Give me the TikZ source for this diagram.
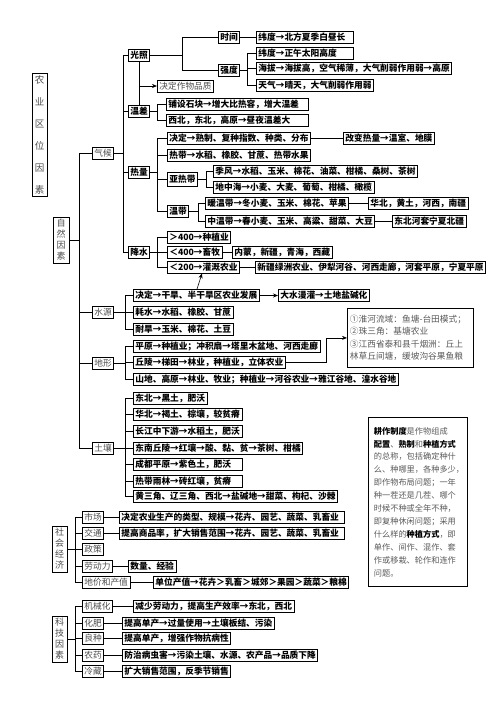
\documentclass[tikz,border=0pt]{standalone}
\usepackage{fontspec}
\setmainfont{Noto Sans CJK SC}[BoldFont={Noto Sans CJK SC Black}]
\usetikzlibrary{arrows.meta, positioning}

\newcommand{\kw}[1]{{\bfseries\color{black}#1}}

\begin{document}
\begin{tikzpicture}[
    x=1pt, y=-1pt,
    every node/.style={font=\fontsize{8.7}{11}\selectfont},
    bx/.style={rectangle, draw, line width=0.8pt, anchor=west, inner xsep=2pt, inner ysep=1.5pt, text height=7.5pt, text depth=1.5pt, font=\fontsize{8.7}{11}\selectfont\bfseries},
    rb/.style={bx, font=\fontsize{8.7}{11}\selectfont, text=black!70},
    wide/.style={text width=#1, align=left},
    vbox/.style={rectangle, draw, line width=0.8pt, align=center, inner sep=0pt, minimum width=15pt, text=black!70, font=\fontsize{9}{11}\selectfont},
    note/.style={rectangle, draw, line width=0.8pt, anchor=north west, align=left, text=black!65},
    link/.style={line width=0.6pt},
    arrow/.style={-{Stealth[length=5pt, width=4pt]}, line width=0.6pt}
]
\useasboundingbox (0,0) rectangle (496,702);

% Title
\node[vbox, minimum height=123pt, font=\fontsize{9.5}{22}\selectfont] (nyqw) at (39.5,134.5) {农\\业\\区\\位\\因\\素};

% Natural factors
\node[vbox, minimum width=16pt, minimum height=46pt] (zr) at (61,240) {自\\然\\因\\素};

% Climate
\node[rb] (qh) at (92,153) {气候};
\node[bx] (gz) at (128,55) {光照};
\node[bx] (sj) at (218,37) {时间};
\node[bx] (qd) at (218,70) {强度};
\node[bx, wide=93pt] (sj1) at (256,37) {纬度→北方夏季白昼长};
\node[bx, wide=93pt] (qd1) at (256,53) {纬度→正午太阳高度};
\node[bx] (qd2) at (256,68.5) {海拔→海拔高，空气稀薄，大气削弱作用弱→高原};
\node[bx] (qd3) at (256,85.5) {天气→晴天，大气削弱作用弱};
\node[rb] (pz) at (157,86) {决定作物品质};
\node[bx] (wc) at (128,111) {温差};
\node[bx, wide=138pt] (wc1) at (166,104) {铺设石块→增大比热容，增大温差};
\node[bx, wide=138pt] (wc2) at (166,120) {西北，东北，高原→昼夜温差大};
\node[bx] (rl) at (128,172.5) {热量};
\node[bx] (rl1) at (167,138.5) {决定→熟制、复种指数、种类、分布};
\node[bx] (rl1a) at (343,138.5) {改变热量→温室、地膜};
\node[bx] (rl2) at (167,155) {热带→水稻、橡胶、甘蔗、热带水果};
\node[bx, minimum height=14pt] (yrd) at (167,179) {亚热带};
\node[bx] (yrd1) at (213,171) {季风→水稻、玉米、棉花、油菜、柑橘、桑树、茶树};
\node[bx] (yrd2) at (213,187) {地中海→小麦、大麦、葡萄、柑橘、橄榄};
\node[bx] (wd) at (167,211.5) {温带};
\node[bx] (wd1) at (205,203) {暖温带→冬小麦、玉米、棉花、苹果};
\node[bx] (wd1a) at (368,203) {华北，黄土，河西，南疆};
\node[bx] (wd2) at (205,221) {中温带→春小麦、玉米、高粱、甜菜、大豆};
\node[bx] (wd2a) at (392,221) {东北河套宁夏北疆};
\node[bx] (js) at (128,252) {降水};
\node[bx] (js1) at (167,237) {＞400→种植业};
\node[bx] (js2) at (167,252.5) {＜400→畜牧};
\node[bx] (js2a) at (232,252.5) {内蒙，新疆，青海，西藏};
\node[bx] (js3) at (167,267) {＜200→灌溉农业};
\node[bx] (js3a) at (255,267) {新疆绿洲农业、伊犁河谷、河西走廊，河套平原，宁夏平原};

% Water
\node[rb] (sy) at (92,312.5) {水源};
\node[bx] (sy1) at (133,295.5) {决定→干旱、半干旱区农业发展};
\node[bx] (sy1a) at (278,295.5) {大水漫灌→土地盐碱化};
\node[bx] (sy2) at (133,312.5) {耗水→水稻、橡胶、甘蔗};
\node[bx] (sy3) at (133,329) {耐旱→玉米、棉花、土豆};

% Terrain
\node[rb] (dx) at (92,363) {地形};
\node[bx] (dx1) at (133,346) {平原→种植业；冲积扇→塔里木盆地、河西走廊};
\node[bx] (dx2) at (133,362.5) {丘陵→梯田→林业，种植业，立体农业};
\node[bx] (dx3) at (133,379) {山地、高原→林业、牧业；种植业→河谷农业→雅江谷地、湟水谷地};
\node[note, minimum width=126pt, minimum height=59pt, text width=121pt, inner xsep=2.5pt, font=\fontsize{8.7}{12.3}\selectfont] (jt) at (347,308) {①淮河流域：鱼塘-台田模式；\\②珠三角：基塘农业\\③江西省泰和县千烟洲：丘上\\林草丘间塘，缓坡沟谷果鱼粮};

% Soil
\node[rb] (tr) at (92,448.5) {土壤};
\node[bx] (tr1) at (133,398) {东北→黑土，肥沃};
\node[bx, wide=105pt] (tr2) at (133,414) {华北→褐土、棕壤，较贫瘠};
\node[bx, wide=105pt] (tr3) at (133,431) {长江中下游→水稻土，肥沃};
\node[bx] (tr4) at (133,448) {东南丘陵→红壤→酸、黏、贫→茶树、柑橘};
\node[bx, wide=105pt] (tr5) at (133,464) {成都平原→紫色土，肥沃};
\node[bx, wide=105pt] (tr6) at (133,481) {热带雨林→砖红壤，贫瘠};
\node[bx] (tr7) at (133,496.5) {黄三角、辽三角、西北→盐碱地→甜菜、枸杞、沙棘};

% Cropping system note
\node[note, minimum width=99pt, minimum height=169pt, text width=88pt, inner xsep=5.5pt, font=\fontsize{8.2}{12.9}\selectfont] (gzzd) at (368,417) {\kw{耕作制度}是作物组成\\\kw{配置}、\kw{熟制}和\kw{种植方式}\\的总称，包括确定种什\\么、种哪里，各种多少，\\即作物布局问题；一年\\种一茬还是几茬、哪个\\时候不种或全年不种，\\即复种休闲问题；采用\\什么样的\kw{种植方式}，即\\单作、间作、混作、套\\作或移栽、轮作和连作\\问题。};

% Social and economic
\node[vbox, minimum height=46pt] (sh) at (59.5,549) {社\\会\\经\\济};
\node[rb] (sc) at (82,517) {市场};
\node[bx, wide=221pt] (sc1) at (119,517) {决定农业生产的类型、规模→花卉、园艺、蔬菜、乳畜业};
\node[rb] (jtong) at (82,533) {交通};
\node[bx, wide=221pt] (jtong1) at (119,533) {提高商品率，扩大销售范围→花卉、园艺、蔬菜、乳畜业};
\node[rb] (zc) at (82,549.5) {政策};
\node[rb] (ldl) at (82,566) {劳动力};
\node[bx] (ldl1) at (128,566) {数量、经验};
\node[rb] (dj) at (82,582) {地价和产值};
\node[bx] (dj1) at (153,582) {单位产值→花卉＞乳畜＞城郊＞果园＞蔬菜＞粮棉};

% Technology
\node[vbox, minimum height=46pt] (kj) at (59.5,639) {科\\技\\因\\素};
\node[rb] (jx) at (82,606.5) {机械化};
\node[bx] (jx1) at (133,606.5) {减少劳动力，提高生产效率→东北，西北};
\node[rb] (hf) at (82,623) {化肥};
\node[bx] (hf1) at (122,623) {提高单产→过量使用→土壤板结、污染};
\node[rb] (lz) at (82,638) {良种};
\node[bx] (lz1) at (122,638) {提高单产，增强作物抗病性};
\node[rb] (ny) at (82,655.5) {农药};
\node[bx] (ny1) at (122,655.5) {防治病虫害→污染土壤、水源、农产品→品质下降};
\node[rb] (lc) at (82,671) {冷藏};
\node[bx] (lc1) at (122,671) {扩大销售范围，反季节销售};

% Connections: natural factors
\foreach \n in {qh, sy, dx, tr} {
    \draw[link] (zr.east) -- ++(10,0) |- (\n.west);
}
\foreach \n in {gz, wc, rl, js} {
    \draw[link] (qh.east) -- ++(9,0) |- (\n.west);
}
\foreach \n in {sj, qd} {
    \draw[link] (gz.east) -- ++(32,0) |- (\n.west);
}
\draw[link] (sj.east) -- (sj1.west);
\foreach \n in {qd1, qd2, qd3} {
    \draw[link] (qd.east) -- ++(7,0) |- (\n.west);
}
\draw[link] (gz.south) -- (wc.north);
\draw[arrow] (gz.south |- pz.west) -- (pz.west);
\foreach \n in {wc1, wc2} {
    \draw[link] (wc.east) -- ++(7,0) |- (\n.west);
}
\foreach \n in {rl1, rl2, yrd, wd} {
    \draw[link] (rl.east) -- ++(7,0) |- (\n.west);
}
\draw[link] (rl1.east) -- (rl1a.west);
\foreach \n in {yrd1, yrd2} {
    \draw[link] (yrd.east) -- ++(8,0) |- (\n.west);
}
\foreach \n in {wd1, wd2} {
    \draw[link] (wd.east) -- ++(9,0) |- (\n.west);
}
\draw[link] (wd1.east) -- (wd1a.west);
\draw[link] (wd2.east) -- (wd2a.west);
\foreach \n in {js1, js2, js3} {
    \draw[link] (js.east) -- ++(7,0) |- (\n.west);
}
\draw[link] (js2.east) -- (js2a.west);
\draw[link] (js3.east) -- (js3a.west);

\foreach \n in {sy1, sy2, sy3} {
    \draw[link] (sy.east) -- ++(11,0) |- (\n.west);
}
\draw[arrow] (sy1.east) -- (sy1a.west);
\draw[arrow] ([xshift=64pt]sy1.north west) -- ([xshift=35pt]js3.south west);

\foreach \n in {dx1, dx2, dx3} {
    \draw[link] (dx.east) -- ++(11,0) |- (\n.west);
}
\draw[arrow] (dx2.east) -- ++(41,0) |- (jt.west);

\foreach \n in {tr1, tr2, tr3, tr4, tr5, tr6, tr7} {
    \draw[link] (tr.east) -- ++(11,0) |- (\n.west);
}

% Connections: social and economic
\foreach \n in {sc, jtong, zc, ldl, dj} {
    \draw[link] (sh.east) -- ++(8,0) |- (\n.west);
}
\draw[link] (sc.east) -- (sc1.west);
\draw[link] (jtong.east) -- (jtong1.west);
\draw[link] (ldl.east) -- (ldl1.west);
\draw[link] (dj.east) -- (dj1.west);

% Connections: technology
\foreach \n in {jx, hf, lz, ny, lc} {
    \draw[link] (kj.east) -- ++(8,0) |- (\n.west);
}
\draw[link] (jx.east) -- (jx1.west);
\draw[link] (hf.east) -- (hf1.west);
\draw[link] (lz.east) -- (lz1.west);
\draw[link] (ny.east) -- (ny1.west);
\draw[link] (lc.east) -- (lc1.west);

\end{tikzpicture}
\end{document}
